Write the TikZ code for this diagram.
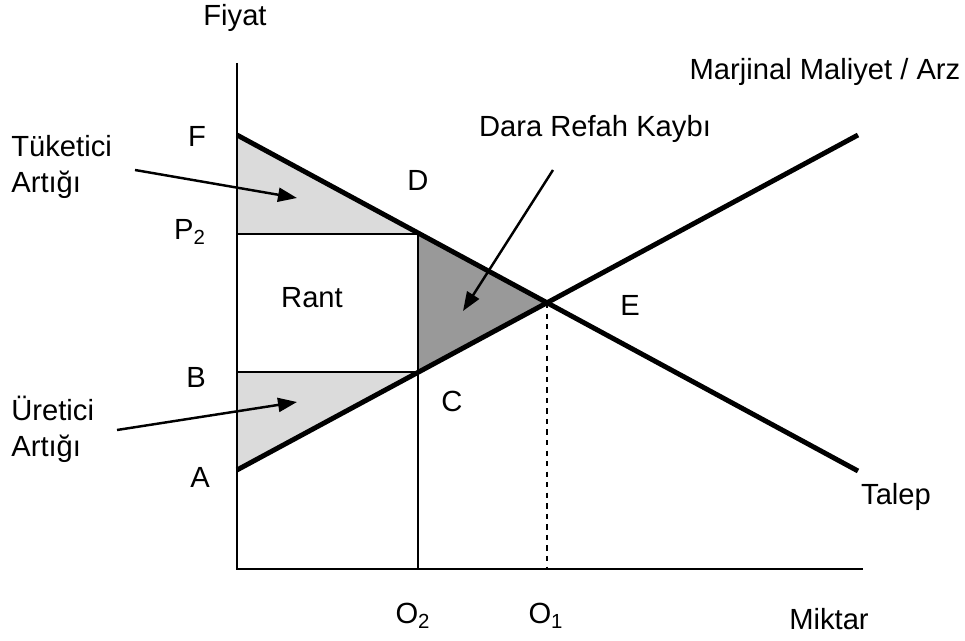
\documentclass[tikz,border=0pt]{standalone}
\usepackage{fontspec}
\setmainfont{Liberation Sans}
\usetikzlibrary{arrows.meta}
\tikzset{every node/.style={font=\fontsize{16.6}{20.5}\selectfont,inner sep=0pt}}
\tikzstyle{axis}=[line width=1.7pt]
\tikzstyle{curve}=[line width=2.8pt]
\tikzstyle{thin}=[line width=0.8pt]
\tikzstyle{pointer}=[line width=1.4pt,-{Triangle[length=3.8mm,width=2.8mm]}]
\tikzstyle{lbl}=[anchor=center]
\begin{document}
\begin{tikzpicture}[x=0.02cm,y=-0.02cm]
		\useasboundingbox (0,0) rectangle (965,641);
		% points of the graph
		\coordinate (top) at (237,63);
		\coordinate (orig) at (237,569);
		\coordinate (right) at (863,569);
		\coordinate (f) at (237,135);
		\coordinate (p2) at (237,234);
		\coordinate (b) at (237,372);
		\coordinate (a) at (237,470);
		\coordinate (d) at (418,234);
		\coordinate (c) at (418,372);
		\coordinate (e) at (547,303);
		\coordinate (o2) at (418,569);
		\coordinate (o1) at (547,569);
		\coordinate (dend) at (858,471);
		\coordinate (send) at (858,135);
		% shaded areas
		\fill[gray!28] (f) -- (d) -- (p2) -- cycle;
		\fill[gray!28] (b) -- (c) -- (a) -- cycle;
		\fill[gray!80] (d) -- (e) -- (c) -- cycle;
		\draw[thin] (p2) -- (d);
		\draw[thin] (b) -- (c);
		\draw[thin] (d) -- (o2);
		\draw[thin,dashed] (e) -- (o1);
		\draw[curve] (f) -- (dend);
		\draw[curve] (a) -- (send);
		\draw[axis] (top) -- (orig) -- (right);
		% labels
		\node at (235,18) [lbl] (fiyat) {Fiyat};
		\node at (825,72) [lbl] (mm) {Marjinal Maliyet / Arz};
		\node at (197,136) [lbl] (lf) {F};
		\node at (190,232) [lbl] (lp) {P\textsubscript{2}};
		\node at (196,377) [lbl] (lb) {B};
		\node at (200,477) [lbl] (la) {A};
		\node at (418,180) [lbl] (ld) {D};
		\node at (452,401) [lbl] (lc) {C};
		\node at (630,305) [lbl] (le) {E};
		\node at (312,298) [lbl] (rant) {Rant};
		\node at (896,497) [lbl] (talep) {Talep};
		\node at (413,616) [lbl] (lo2) {O\textsubscript{2}};
		\node at (546,616) [lbl] (lo1) {O\textsubscript{1}};
		\node at (829,619) [lbl] (miktar) {Miktar};
		\node at (595,129) [lbl] (dara) {Dara Refah Kaybı};
		\node at (11,167) [anchor=west,align=left] (tuk) {Tüketici\\Artığı};
		\node at (11,429) [anchor=west,align=left] (ure) {Üretici\\Artığı};
		% arrows
		\coordinate (t1) at (135,170);
		\coordinate (t2) at (297,198);
		\coordinate (u1) at (117,430);
		\coordinate (u2) at (297,402);
		\coordinate (k1) at (553,170);
		\coordinate (k2) at (463,311);
		\draw[pointer] (t1) -- (t2);
		\draw[pointer] (u1) -- (u2);
		\draw[pointer] (k1) -- (k2);
\end{tikzpicture}
\end{document}
